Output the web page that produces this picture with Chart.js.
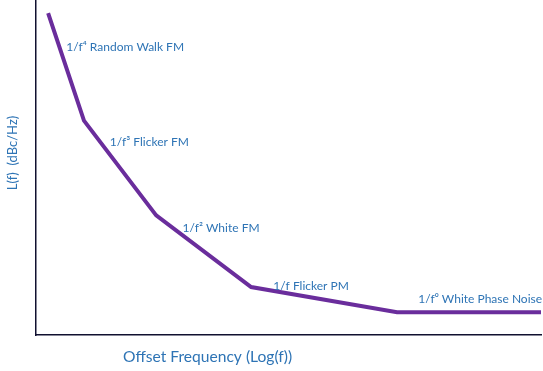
<!DOCTYPE html>
<html><head><meta charset="utf-8">
<script src="https://cdn.jsdelivr.net/npm/chart.js@4.4.0/dist/chart.umd.min.js"></script>
<style>html,body{margin:0;padding:0;background:#fff}#wrap{width:543px;height:371px}</style>
</head><body><div id="wrap"><canvas id="c"></canvas></div>
<script>
// Log offset frequency (arbitrary units) and phase noise (arbitrary units)
const freqPoints = [0.24, 0.95, 2.38, 4.26, 7.15, 10];
const noiseValues = [96.1, 64.0, 35.7, 14.3, 6.8, 6.8];
const regionLabels = ["Random Walk FM", "Flicker FM", "White FM", "Flicker PM", "White Phase Noise"];
const regionPrefixes = ["1/f\u2074", "1/f\u00b3", "1/f\u00b2", "1/f", "1/f\u2070"];
const labelX = [0.6, 1.46, 2.9, 4.7, 7.57];
const labelY = [86.0, 57.5, 31.8, 14.6, 10.8];
const xTitle = 'Offset Frequency (Log(f))';
const yTitle = 'L(f)  (dBc/Hz)';

const textColor = '#2e74b5';
const fontFam = 'Lato, "Open Sans", sans-serif';
const labelPlugin = {
  id: 'regionLabels',
  afterDatasetsDraw(chart) {
    const {ctx, scales, chartArea} = chart;
    ctx.save();
    ctx.fillStyle = textColor;
    ctx.font = '12px ' + fontFam;
    ctx.textBaseline = 'middle';
    ctx.textAlign = 'left';
    regionLabels.forEach((t, i) => {
      const x = scales.x.getPixelForValue(labelX[i]);
      const y = scales.y.getPixelForValue(labelY[i]);
      ctx.fillText(regionPrefixes[i] + ' ' + t, x, y);
    });
    // axis titles
    ctx.font = '15.6px ' + fontFam;
    ctx.fillText(xTitle, chartArea.left + 87, chartArea.bottom + 22);
    ctx.save();
    ctx.translate(chartArea.left - 23, chartArea.top + 153);
    ctx.rotate(-Math.PI / 2);
    ctx.textAlign = 'center';
    ctx.font = '13px ' + fontFam;
    ctx.fillText(yTitle, 0, 0);
    ctx.restore();
    ctx.restore();
  }
};

new Chart(document.getElementById('c'), {
  type: 'line',
  data: {
    datasets: [{
      data: freqPoints.map((f, i) => ({x: f, y: noiseValues[i]})),
      borderColor: '#6a2d9c',
      borderWidth: 4,
      pointRadius: 0,
      tension: 0,
      fill: false
    }]
  },
  plugins: [labelPlugin],
  options: {
    responsive: true,
    maintainAspectRatio: false,
    animation: false,
    layout: {padding: {top: 0, right: 2, left: 36, bottom: 36}},
    plugins: {legend: {display: false}, tooltip: {enabled: false}},
    scales: {
      x: {
        type: 'linear', min: 0, max: 10,
        grid: {display: false, drawTicks: false},
        border: {display: true, color: '#101030', width: 1.5},
        ticks: {display: false}
      },
      y: {
        type: 'linear', min: 0, max: 100,
        grid: {display: false, drawTicks: false},
        border: {display: true, color: '#101030', width: 1.5},
        ticks: {display: false}
      }
    }
  }
});
</script></body></html>
